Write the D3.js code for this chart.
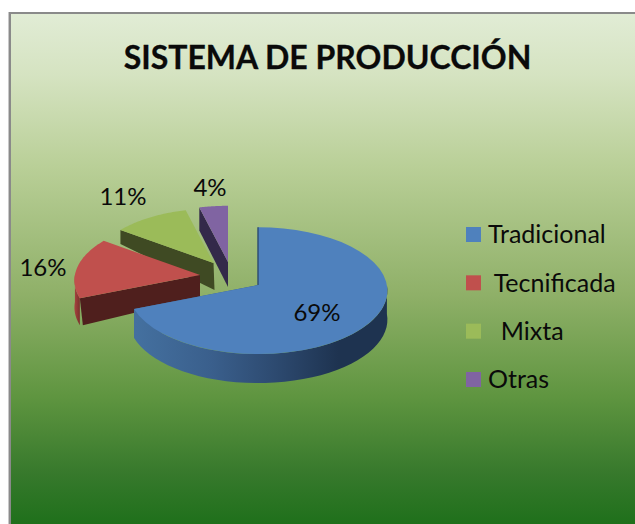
<!DOCTYPE html>
<html><head><meta charset="utf-8">
<script src="https://cdn.jsdelivr.net/npm/d3@7"></script>
<style>html,body{margin:0;padding:0;background:#fff}svg{display:block}text{font-family:Lato,"Open Sans",sans-serif;fill:#0a0a0a}</style>
</head><body><div id="c"></div>
<script>
const categories = ["Tradicional", "Tecnificada", "Mixta", "Otras"];
const values = [69, 16, 11, 4];
const legendLabels = ["Tradicional", "\u00a0Tecnificada", "\u00a0\u00a0Mixta", "Otras"];
const title = "SISTEMA DE PRODUCCIÓN";

const W = 635, H = 524;
const topColors = ["#4f81bd", "#c0504d", "#9bbb59", "#8064a2"];
const faceColors = ["#1e3350", "#4f1f1d", "#3f4a23", "#33294a"];
// explode offset of each slice's apex from the pie centre, and extrusion depth at apex / rim
const apex = [[258, 285], [200, 275], [213.5, 263], [228, 262]];
const depthApex = [28, 22, 27, 25];
const depthRim = [29, 27, 14, 23];
const radiusScale = [1.015, 0.985, 0.95, 0.985];
const labelPos = [[317, 313], [43, 268], [123, 197], [210, 188]];

const svg = d3.select("#c").append("svg").attr("width", W).attr("height", H);
const defs = svg.append("defs");
const bg = defs.append("linearGradient").attr("id", "bg").attr("x1", 0).attr("x2", 0).attr("y1", 0).attr("y2", 1);
[[0, "#e1ecd5"], [.12, "#d5e3c1"], [.3, "#b9cf97"], [.55, "#8fb068"], [.75, "#5f9540"], [.9, "#37792c"], [1, "#1f701b"]]
  .forEach(d => bg.append("stop").attr("offset", d[0]).attr("stop-color", d[1]));
const side = defs.append("linearGradient").attr("id", "side").attr("gradientUnits", "userSpaceOnUse")
  .attr("x1", 136).attr("x2", 389).attr("y1", 0).attr("y2", 0);
[[0, "#44709f"], [.3, "#3a5f8c"], [.55, "#2d4a70"], [.8, "#1e3350"], [1, "#1e3350"]]
  .forEach(d => side.append("stop").attr("offset", d[0]).attr("stop-color", d[1]));
const rim = defs.append("linearGradient").attr("id", "rimRed").attr("x1", 0).attr("x2", 1).attr("y1", 0).attr("y2", 0);
[[0, "#a8433f"], [1, "#7a2f2c"]].forEach(d => rim.append("stop").attr("offset", d[0]).attr("stop-color", d[1]));

// Frame and backdrop
svg.append("rect").attr("x", 8).attr("y", 12).attr("width", W - 8).attr("height", H - 12).attr("fill", "#c8c8c8");
svg.append("rect").attr("x", 9).attr("y", 12).attr("width", W - 9).attr("height", H - 12).attr("fill", "#8a8a8a");
svg.append("rect").attr("x", 11).attr("y", 14).attr("width", W - 11).attr("height", H - 14).attr("fill", "url(#bg)");

svg.append("text").attr("x", 327.5).attr("y", 69).attr("text-anchor", "middle")
  .attr("font-size", 32).attr("font-weight", 700).attr("stroke", "#0a0a0a").attr("stroke-width", 0.3).text(title);

// Perspective projection of the pie disc
const R = 127, k = 0.088, B = 62;
const proj = (a, ang, r, z) => {
  const u = Math.sin(ang) * r, v = -Math.cos(ang) * r, s = 1 / (1 - k * v);
  return [a[0] + R * u * s, a[1] + B * v * s + z];
};
const pie = d3.pie().sort(null).value(d => d);
const arcs = pie(values);
const line = d3.line().curve(d3.curveLinear);
const samples = (a0, a1) => d3.range(0, 41).map(i => a0 + (a1 - a0) * i / 40);

[3, 2, 1, 0].forEach(i => {
  const d = arcs[i], a = apex[i], g = svg.append("g"), r = radiusScale[i];
  const z0 = depthApex[i], z1 = depthRim[i];
  // rim (outer wall), only where it faces the viewer
  const lo = Math.max(d.startAngle, Math.PI / 2), hi = Math.min(d.endAngle, 3 * Math.PI / 2);
  if (hi > lo) {
    const top = samples(lo, hi).map(t => proj(a, t, r, 0));
    const bot = samples(hi, lo).map(t => proj(a, t, r, z1));
    g.append("path").attr("d", line(top.concat(bot)) + "Z")
      .attr("fill", i === 0 ? "url(#side)" : i === 1 ? "url(#rimRed)" : faceColors[i]);
  }
  // cut faces
  if (i === 0) {
    g.append("path").attr("d", line([proj(a, d.endAngle, r, 0), a, [a[0], a[1] + z0], proj(a, d.endAngle, r, z1)]) + "Z")
      .attr("fill", "url(#side)");
  } else {
    const c = proj(a, d.startAngle, r, 0), e = proj(a, d.startAngle, r, z1);
    g.append("path").attr("d", line([a, c, [e[0] + (i === 1 ? 3 : 0), e[1]], [a[0] + (i === 2 ? 1 : 0), a[1] + z0]]) + "Z")
      .attr("fill", faceColors[i]);
  }
  // top surface
  const pts = [a].concat(samples(d.startAngle, d.endAngle).map(t => proj(a, t, r, 0)));
  g.append("path").attr("d", line(pts) + "Z").attr("fill", topColors[i]);
  // thin inner wall on the blue slice's vertical cut
  if (i === 0) {
    g.append("path").attr("d", line([proj(a, d.startAngle, r, 0), a]))
      .attr("stroke", "#2c4a70").attr("stroke-width", 1.4).attr("fill", "none");
  }
});

// Data labels
svg.append("g").selectAll("text").data(values).join("text")
  .attr("x", (d, i) => labelPos[i][0]).attr("y", (d, i) => labelPos[i][1])
  .attr("dy", "0.35em").attr("text-anchor", "middle").attr("font-size", 24)
  .text(d => d + "%");

// Legend
const ly = d3.scalePoint().domain(categories).range([234.5, 379.5]);
const lg = svg.append("g").selectAll("g").data(categories).join("g")
  .attr("transform", d => `translate(466,${ly(d)})`);
lg.append("rect").attr("x", 0).attr("y", -7.5).attr("width", 15).attr("height", 15).attr("fill", (d, i) => topColors[i]);
lg.append("text").attr("x", 22).attr("dy", "0.35em").attr("font-size", 25)
  .attr("xml:space", "preserve").text((d, i) => legendLabels[i]);
</script></body></html>
